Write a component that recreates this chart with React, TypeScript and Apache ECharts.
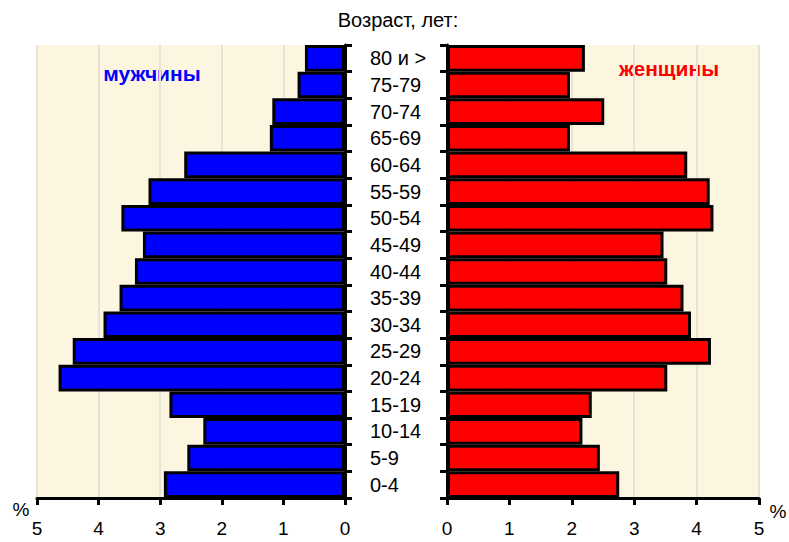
import React, { useEffect, useRef } from "react";
import * as echarts from "echarts";

const ageGroups = ["0-4", "5-9", "10-14", "15-19", "20-24", "25-29", "30-34", "35-39", "40-44", "45-49", "50-54", "55-59", "60-64", "65-69", "70-74", "75-79", "80 и >"];
const menValues = [2.94, 2.56, 2.3, 2.85, 4.65, 4.42, 3.92, 3.66, 3.41, 3.28, 3.63, 3.19, 2.61, 1.22, 1.18, 0.77, 0.65];
const womenValues = [2.76, 2.45, 2.17, 2.32, 3.53, 4.23, 3.91, 3.79, 3.53, 3.47, 4.27, 4.21, 3.85, 1.97, 2.52, 1.97, 2.21];
const percentTicks = { min: 0, max: 5, interval: 1 };
const titleText = "Возраст, лет:";
const menLabel = "мужчины";
const womenLabel = "женщины";

const FONT = "'Liberation Sans', Arial, sans-serif";
const BG = "#FCF6E0";
const SPLIT = "#E6E2D6";

export default function App() {
  const ref = useRef<HTMLDivElement>(null);
  useEffect(() => {
    if (!ref.current) return;
    const chart = echarts.init(ref.current, undefined, { renderer: "svg" });
    const xCommon = (gridIndex: number, inverse: boolean) => ({
      type: "value",
      gridIndex,
      inverse,
      min: percentTicks.min,
      max: percentTicks.max,
      interval: percentTicks.interval,
      position: "bottom",
      axisLine: { show: true, onZero: false, lineStyle: { color: "#000", width: 3 } },
      axisTick: { show: true, length: 7, lineStyle: { color: "#000", width: 3 } },
      axisLabel: { show: true, margin: 21, fontSize: 19, color: "#000", fontFamily: FONT },
      splitLine: { show: true, lineStyle: { color: SPLIT, width: 2 } },
    });
    const yCommon = (gridIndex: number, position: string, showLabel: boolean) => ({
      type: "category",
      gridIndex,
      position,
      data: ageGroups,
      axisLine: { show: true, lineStyle: { color: "#000", width: 3 } },
      axisTick: { show: true, length: 7, lineStyle: { color: "#000", width: 3 } },
      axisLabel: {
        show: showLabel,
        align: "left",
        margin: 25,
        fontSize: 20,
        color: "#000",
        fontFamily: FONT,
      },
      splitLine: { show: false },
    });
    chart.setOption({
      animation: false,
      backgroundColor: "#fff",
      textStyle: { fontFamily: FONT },
      grid: [
        { left: 37, right: 789 - 345, top: 45, bottom: 542 - 498, show: true, backgroundColor: BG, borderWidth: 0, containLabel: false },
        { left: 447, right: 789 - 759, top: 45, bottom: 542 - 498, show: true, backgroundColor: BG, borderWidth: 0, containLabel: false },
      ],
      xAxis: [xCommon(0, true), xCommon(1, false)],
      yAxis: [yCommon(0, "right", true), yCommon(1, "left", false)],
      series: [
        {
          type: "bar",
          name: menLabel,
          xAxisIndex: 0,
          yAxisIndex: 0,
          data: menValues,
          barCategoryGap: "0%",
          itemStyle: { color: "#0000FF", borderColor: "#000", borderWidth: 3 },
        },
        {
          type: "bar",
          name: womenLabel,
          xAxisIndex: 1,
          yAxisIndex: 1,
          data: womenValues,
          barCategoryGap: "0%",
          itemStyle: { color: "#FF0000", borderColor: "#000", borderWidth: 3 },
        },
      ],
      graphic: [
        { type: "text", x: 398, y: 20, style: { text: titleText, fontSize: 20, fill: "#000", fontFamily: FONT, textAlign: "center", textVerticalAlign: "middle" } },
        { type: "text", x: 152, y: 73, style: { text: menLabel, fontSize: 21, fontWeight: "bold", fill: "#0000FF", fontFamily: FONT, textAlign: "center", textVerticalAlign: "middle" } },
        { type: "text", x: 669, y: 68, style: { text: womenLabel, fontSize: 21, fontWeight: "bold", fill: "#FF0000", fontFamily: FONT, textAlign: "center", textVerticalAlign: "middle" } },
        { type: "text", x: 21, y: 509, style: { text: "%", fontSize: 19, fill: "#000", fontFamily: FONT, textAlign: "center", textVerticalAlign: "middle" } },
        { type: "text", x: 778, y: 511, style: { text: "%", fontSize: 19, fill: "#000", fontFamily: FONT, textAlign: "center", textVerticalAlign: "middle" } },
      ],
    });
    return () => chart.dispose();
  }, []);
  return <div ref={ref} style={{ width: 789, height: 542, position: "absolute", left: 0, top: 0 }} />;
}
